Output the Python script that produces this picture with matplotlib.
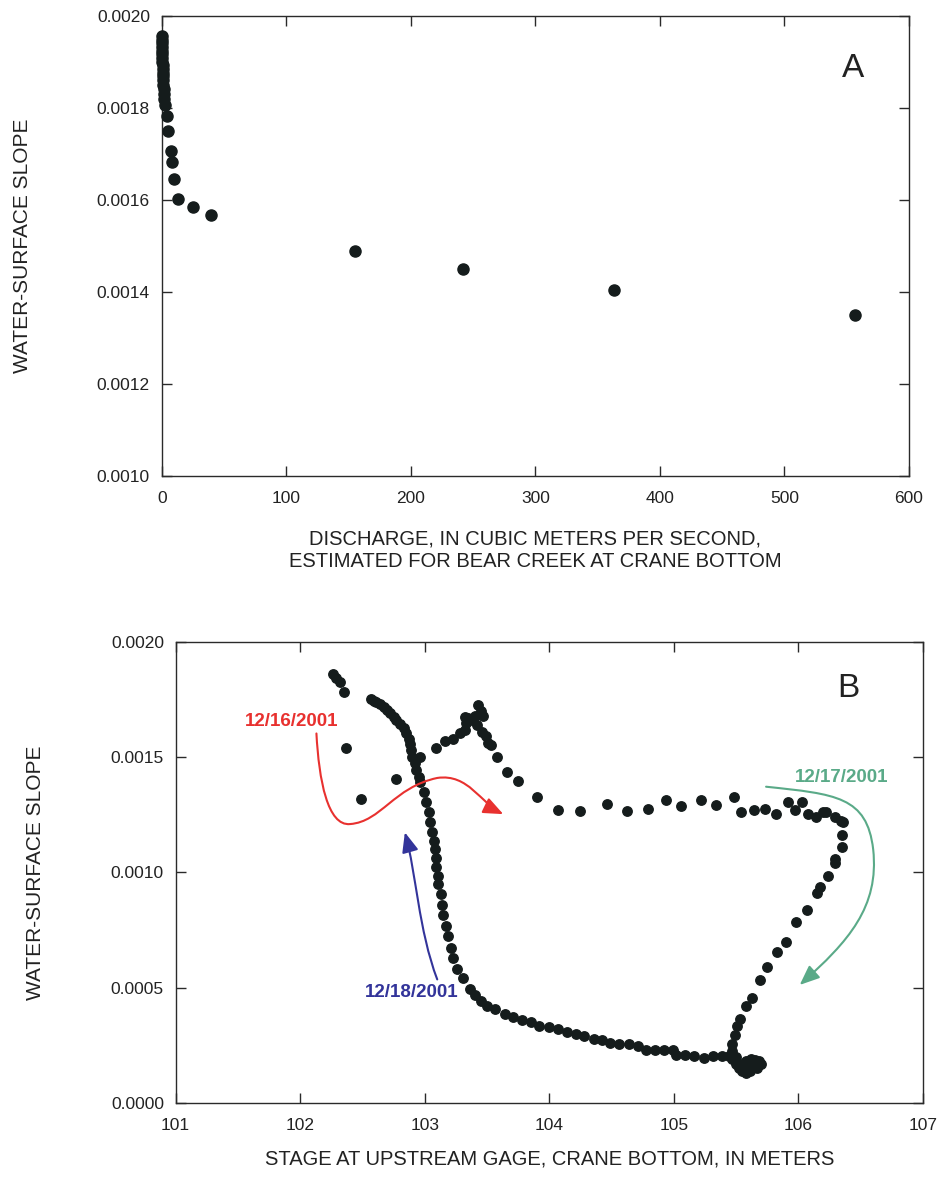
import numpy as np
import matplotlib.pyplot as plt
from matplotlib.path import Path
from matplotlib.patches import FancyArrowPatch

plt.rcParams['font.family'] = ['Liberation Sans', 'DejaVu Sans']

# ---- panel A data ----
discharge = [0.0, 0.1, 0.2, 0.2, 0.3, 0.4, 0.5, 0.6, 0.7, 0.8, 0.9, 1.0,
             1.1, 1.3, 1.5, 1.7, 2.0, 2.6, 4.0, 4.8, 7.2, 8.3, 10.1, 13.3,
             24.9, 39.6, 155, 242, 363, 557]
slope_a = [0.001955, 0.001948, 0.001940, 0.001932, 0.001924, 0.001916,
           0.001908, 0.001900, 0.001892, 0.001884, 0.001876, 0.001868,
           0.001860, 0.001850, 0.001840, 0.001830, 0.001820, 0.001806,
           0.001783, 0.001750, 0.001706, 0.001683, 0.001645, 0.001602,
           0.001584, 0.001568, 0.001488, 0.001449, 0.001405, 0.001349]

# ---- panel B data ----
stage_1216 = [102.26, 102.29, 102.32, 102.35, 102.37, 102.49, 102.77, 102.96,
              103.09, 103.16, 103.23, 103.28, 103.32, 103.33, 103.35, 103.32,
              103.38, 103.40, 103.43, 103.45, 103.47, 103.42, 103.46, 103.49,
              103.51, 103.53, 103.58, 103.66, 103.75]
slope_1216 = [0.001863, 0.001845, 0.001827, 0.001784, 0.001538, 0.001317,
              0.001404, 0.001500, 0.001540, 0.001570, 0.001580, 0.001603,
              0.001620, 0.001650, 0.001670, 0.001675, 0.001660, 0.001680,
              0.001726, 0.001700, 0.001680, 0.001640, 0.001610, 0.001590,
              0.001560, 0.001552, 0.001502, 0.001437, 0.001398]

stage_1217 = [103.90, 104.07, 104.25, 104.46, 104.62, 104.79, 104.94, 105.06,
              105.22, 105.34, 105.48, 105.54, 105.64, 105.73, 105.82, 105.92,
              105.97, 106.03, 106.08, 106.14, 106.20, 106.22, 106.29, 106.34,
              106.36, 106.35, 106.35, 106.29, 106.29, 106.24, 106.17, 106.15,
              106.07, 105.98, 105.90, 105.83, 105.75, 105.69, 105.63, 105.58,
              105.53, 105.51, 105.49, 105.47, 105.47,
              105.47, 105.50, 105.52, 105.55, 105.58, 105.61, 105.64, 105.66,
              105.68, 105.70, 105.67, 105.62, 105.58, 105.55, 105.50, 105.60,
              105.65]
slope_1217 = [0.001326, 0.001271, 0.001265, 0.001297, 0.001265, 0.001275,
              0.001316, 0.001290, 0.001316, 0.001293, 0.001326, 0.001261,
              0.001271, 0.001275, 0.001254, 0.001304, 0.001271, 0.001304,
              0.001254, 0.001239, 0.001264, 0.001261, 0.001239, 0.001225,
              0.001220, 0.001162, 0.001109, 0.001058, 0.001039, 0.000983,
              0.000938, 0.000910, 0.000836, 0.000783, 0.000700, 0.000657,
              0.000590, 0.000533, 0.000454, 0.000420, 0.000365, 0.000336,
              0.000293, 0.000254, 0.000225,
              0.000190, 0.000170, 0.000150, 0.000140, 0.000130, 0.000140,
              0.000160, 0.000170, 0.000180, 0.000170, 0.000150, 0.000190,
              0.000180, 0.000170, 0.000200, 0.000165, 0.000185]

stage_1218 = [105.44, 105.39, 105.31, 105.24, 105.16, 105.09, 105.02, 104.99,
              104.92, 104.85, 104.78, 104.71, 104.64, 104.56, 104.49, 104.42,
              104.36, 104.28, 104.21, 104.14, 104.07, 104.00, 103.92, 103.85,
              103.78, 103.71, 103.64, 103.56, 103.50, 103.45, 103.40, 103.36,
              103.31, 103.26, 103.23, 103.21, 103.19, 103.17, 103.15, 103.14,
              103.13, 103.11, 103.11, 103.09, 103.09, 103.08, 103.07, 103.06,
              103.04, 103.03, 103.01, 102.99, 102.96, 102.95, 102.93, 102.92,
              102.90, 102.89, 102.88, 102.87, 102.85, 102.83, 102.80, 102.77,
              102.75, 102.72, 102.70, 102.67, 102.64, 102.61, 102.59, 102.57]
slope_1218 = [0.000203, 0.000203, 0.000203, 0.000196, 0.000203, 0.000210,
              0.000210, 0.000229, 0.000229, 0.000229, 0.000229, 0.000246,
              0.000254, 0.000254, 0.000261, 0.000272, 0.000278, 0.000290,
              0.000297, 0.000307, 0.000319, 0.000330, 0.000336, 0.000351,
              0.000362, 0.000374, 0.000387, 0.000406, 0.000420, 0.000442,
              0.000467, 0.000493, 0.000543, 0.000580, 0.000630, 0.000674,
              0.000725, 0.000768, 0.000814, 0.000858, 0.000906, 0.000949,
              0.000986, 0.001022, 0.001061, 0.001101, 0.001138, 0.001174,
              0.001217, 0.001261, 0.001304, 0.001348, 0.001391, 0.001415,
              0.001444, 0.001473, 0.001502, 0.001531, 0.001556, 0.001581,
              0.001603, 0.001625, 0.001643, 0.001661, 0.001675, 0.001690,
              0.001705, 0.001719, 0.001730, 0.001740, 0.001746, 0.001751]

dot = '#151c1c'
red = '#e8312f'
blue = '#33349a'
green = '#5aaa88'
spine_c = '#2a2a2a'
txt = '#222222'

fig = plt.figure(figsize=(9.43, 11.79), dpi=100)
axA = fig.add_axes([0.1715, 0.5963, 0.7925, 0.3904])
axB = fig.add_axes([0.1863, 0.0645, 0.7925, 0.391])


def style(ax):
    for s in ax.spines.values():
        s.set_color(spine_c)
        s.set_linewidth(1.0)
    ax.tick_params(direction='in', length=7, width=1.0, colors=spine_c,
                   labelcolor=txt, labelsize=12.5, top=True, right=True)
    ax.tick_params(axis='x', pad=11)
    ax.tick_params(axis='y', pad=8.5)


# panel A
axA.plot(discharge, slope_a, 'o', color=dot, ms=8, clip_on=False, zorder=3)
axA.set_xlim(0, 600)
axA.set_ylim(0.0010, 0.0020)
axA.set_xticks(np.arange(0, 601, 100))
axA.set_yticks(np.arange(0.0010, 0.00201, 0.0002))
axA.yaxis.set_major_formatter(plt.FormatStrFormatter('%.4f'))
style(axA)
axA.set_xlabel('DISCHARGE, IN CUBIC METERS PER SECOND,\n'
               'ESTIMATED FOR BEAR CREEK AT CRANE BOTTOM',
               fontsize=14.5, color=txt, labelpad=17, linespacing=1.2)
axA.set_ylabel('WATER-SURFACE SLOPE', fontsize=15, color=txt, labelpad=47)
axA.text(0.925, 0.885, 'A', transform=axA.transAxes, fontsize=24,
         color=txt, ha='center', va='center')

# panel B
for xs, ys in [(stage_1216, slope_1216), (stage_1217, slope_1217),
               (stage_1218, slope_1218)]:
    axB.plot(xs, ys, 'o', color=dot, ms=6.8, zorder=3)
axB.set_xlim(101, 107)
axB.set_ylim(0.0, 0.0020)
axB.set_xticks(np.arange(101, 108, 1))
axB.set_yticks(np.arange(0.0, 0.00201, 0.0005))
axB.yaxis.set_major_formatter(plt.FormatStrFormatter('%.4f'))
style(axB)
axB.set_xlabel('STAGE AT UPSTREAM GAGE, CRANE BOTTOM, IN METERS',
               fontsize=14.5, color=txt, labelpad=12)
axB.set_ylabel('WATER-SURFACE SLOPE', fontsize=15, color=txt, labelpad=47)
axB.text(0.9, 0.9, 'B', transform=axB.transAxes, fontsize=24,
         color=txt, ha='center', va='center')


def curve_arrow(ax, pts, color):
    codes = [Path.MOVETO] + [Path.CURVE4] * (len(pts) - 1)
    path = Path(pts, codes)
    ax.add_patch(FancyArrowPatch(path=path,
                                 arrowstyle='-|>,head_length=12,head_width=5',
                                 color=color, lw=1.5, zorder=4,
                                 shrinkA=0, shrinkB=0))


# red arrow 12/16
curve_arrow(axB, [(102.13, 0.001603), (102.15, 0.00140), (102.22, 0.00120),
                  (102.40, 0.00121), (102.65, 0.00122), (102.75, 0.00137),
                  (103.10, 0.00141), (103.35, 0.00143), (103.45, 0.00130),
                  (103.63, 0.001253)], red)
axB.text(101.93, 0.001654, '12/16/2001', color=red, fontsize=13.5,
         fontweight='bold', ha='center', va='center')

# blue arrow 12/18
curve_arrow(axB, [(103.10, 0.000536), (102.95, 0.00075), (102.93, 0.00100),
                  (102.84, 0.001174)], blue)
axB.text(103.27, 0.000478, '12/18/2001', color=blue, fontsize=13.5,
         fontweight='bold', ha='right', va='center')

# green arrow 12/17
curve_arrow(axB, [(105.74, 0.001372), (106.30, 0.00134), (106.55, 0.00133),
                  (106.60, 0.00110), (106.65, 0.00085), (106.40, 0.00070),
                  (106.01, 0.000512)], green)
axB.text(106.35, 0.001412, '12/17/2001', color=green, fontsize=13.5,
         fontweight='bold', ha='center', va='center')

fig.savefig('out.png', dpi=100)
